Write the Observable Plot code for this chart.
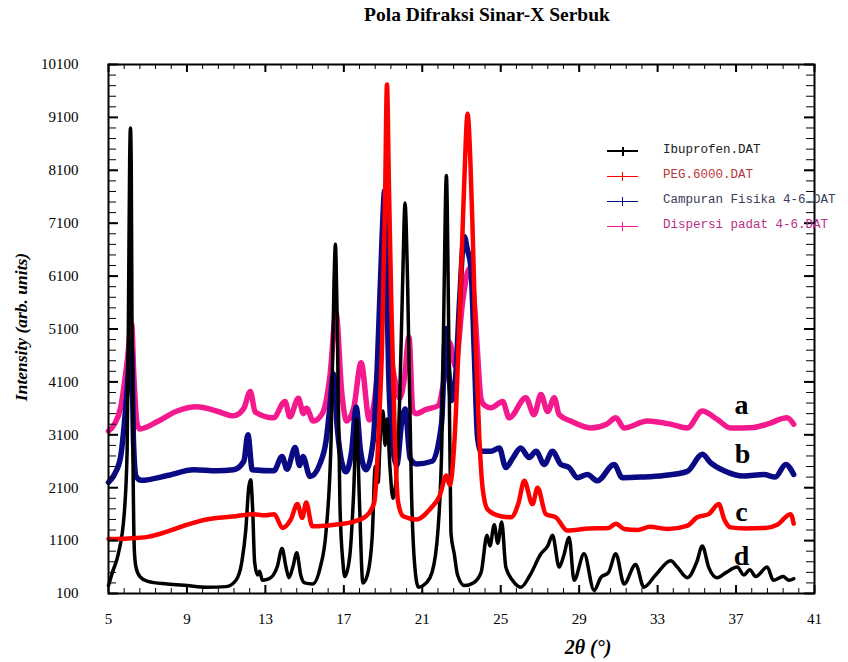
<!DOCTYPE html>
<html><head><meta charset="utf-8">
<script src="https://cdn.jsdelivr.net/npm/d3@7"></script>
<script src="https://cdn.jsdelivr.net/npm/@observablehq/plot@0.6"></script>
<style>
body{margin:0;background:#fff;overflow:hidden;}
#wrap{position:relative;width:848px;height:662px;font-family:"Liberation Serif",serif;}
#title{position:absolute;left:487px;top:4px;transform:translateX(-50%);white-space:nowrap;font-weight:bold;font-size:19.5px;}
#ylab{position:absolute;left:21px;top:327px;transform:translate(-50%,-50%) rotate(-90deg);white-space:nowrap;font-weight:bold;font-style:italic;font-size:17.5px;}
#xlab{position:absolute;left:588px;top:647px;transform:translate(-50%,-50%);white-space:nowrap;font-weight:bold;font-style:italic;font-size:20px;}
#legend{position:absolute;left:607px;top:142px;font-family:"Liberation Mono",monospace;font-size:12.5px;}
.li{position:relative;height:25px;}
.li .ln{position:absolute;left:0;top:9px;width:31px;}
.li .tk{position:absolute;left:15px;top:5px;width:1px;height:9px;}
.li .tx{position:absolute;left:56px;top:1px;white-space:nowrap;}
</style></head>
<body>
<div id="wrap">
  <div id="chart"></div>
  <div id="title">Pola Difraksi Sinar-X Serbuk</div>
  <div id="ylab">Intensity (arb. units)</div>
  <div id="xlab">2θ (°)</div>
  <div id="legend"></div>
</div>
<script>
// ---- series names / colours ----
const seriesNames = ["Ibuprofen.DAT", "PEG.6000.DAT", "Campuran Fisika 4-6.DAT", "Dispersi padat 4-6.DAT"];
const seriesColors = ["#000000", "#ff0000", "#0a0a85", "#f5198e"];
const legendTextColors = ["#202020", "#b8363a", "#3a3a5c", "#b82e86"];

// ---- Ibuprofen (d, black) ----
const ibuX = [5.0,5.2,5.5,5.8,5.95,6.02,6.08,6.12,6.16,6.2,6.26,6.32,6.4,6.6,7.0,8.0,9.0,10.0,11.0,11.5,11.8,12.0,12.15,12.25,12.35,12.45,12.6,12.7,12.85,13.2,13.6,13.85,14.05,14.2,14.4,14.6,14.8,15.0,15.4,15.8,16.1,16.35,16.5,16.57,16.65,16.8,16.95,17.05,17.3,17.5,17.65,17.8,17.97,18.2,18.45,18.6,18.75,18.85,19.0,19.1,19.2,19.35,19.5,19.65,19.85,20.0,20.12,20.25,20.45,20.6,20.8,21.2,21.5,21.8,22.0,22.1,22.23,22.35,22.46,22.63,22.8,23.15,23.6,24.0,24.3,24.45,24.67,24.85,25.05,25.26,25.6,26.03,26.5,27.05,27.4,27.64,27.98,28.2,28.49,28.74,29.25,29.76,30.1,30.5,30.87,31.29,31.88,32.3,32.9,33.67,34.0,34.52,35.0,35.28,35.6,36.04,36.5,37.06,37.4,37.7,38.0,38.59,38.9,39.4,39.7,39.94];
const ibuY = [250,500,850,1600,2800,5500,8300,8900,8200,5000,2200,900,600,420,330,280,250,220,230,350,700,1300,2100,2250,1700,700,450,520,350,380,600,950,600,400,600,870,450,300,280,600,1300,3000,6000,6700,5500,1800,700,420,800,2000,3400,1800,300,450,1200,2500,2200,3000,3550,2900,3400,2500,1900,2200,3800,6000,7480,6000,2000,700,220,300,500,1300,3000,5500,8000,5000,1250,850,450,250,300,500,1200,1000,1400,1050,1450,600,350,220,450,850,1000,1200,600,800,1160,350,850,160,400,500,850,280,650,220,450,720,600,400,700,1000,600,400,500,600,450,550,420,600,350,420,350,380];

// ---- PEG 6000 (c, red) ----
const pegX = [5.0,6.0,7.0,8.0,9.0,10.0,10.6,11.5,12.3,13.0,13.45,13.87,14.3,14.63,14.88,15.08,15.39,16.0,16.5,17.5,18.13,18.55,18.8,18.95,19.1,19.2,19.3,19.42,19.6,19.77,20.03,20.7,21.38,21.89,22.23,22.4,22.65,22.9,23.14,23.31,23.45,23.57,23.74,23.91,24.08,24.33,25.0,25.52,25.9,26.2,26.62,26.88,27.3,27.81,28.4,29.5,30.5,30.87,31.3,32.0,32.6,33.5,34.5,35.02,35.6,36.12,36.4,36.72,37.5,38.5,39.1,39.78,39.94];
const pegY = [1130,1140,1170,1270,1400,1500,1530,1560,1600,1580,1600,1340,1500,1790,1530,1820,1370,1380,1400,1460,1560,1820,3360,4800,7500,9720,7800,5600,3040,1820,1560,1500,1690,1950,2330,2150,3040,5300,7880,9170,8300,6920,4660,3040,2080,1690,1560,1540,1800,2230,1790,2100,1600,1540,1290,1330,1340,1420,1320,1300,1360,1320,1380,1540,1600,1790,1500,1350,1330,1340,1400,1600,1420];

// ---- Campuran Fisika 4-6 (b, navy) ----
const cfX = [5.0,5.3,5.62,5.96,6.13,6.2,6.27,6.41,6.67,8.0,9.35,10.5,11.38,11.9,12.11,12.33,13.43,13.85,14.1,14.52,14.74,14.91,15.28,15.79,16.1,16.3,16.47,16.65,17.0,17.1,17.4,17.63,17.85,18.13,18.5,18.7,18.96,19.08,19.18,19.28,19.45,19.7,19.96,20.13,20.38,20.7,21.5,21.98,22.2,22.35,22.5,22.7,22.9,23.14,23.3,23.48,23.65,23.82,23.99,24.5,24.93,25.26,25.6,26.02,26.45,26.8,27.22,27.64,28.06,28.49,28.91,29.42,29.93,30.78,31.2,32.14,33.33,34.52,35.28,35.71,36.39,37.4,38.42,39.0,39.53,39.94];
const cfY = [2200,2350,2690,3990,4850,4500,3020,2310,2240,2330,2440,2420,2440,2600,3100,2440,2420,2690,2450,2860,2520,2690,2310,2560,3000,3670,4250,3300,2450,2400,2800,3620,2800,2440,3000,4340,6920,7720,6200,4340,3040,2530,3365,3590,2660,2550,2600,3300,5110,4300,3750,4200,5620,6850,6600,6270,4660,3040,2790,2790,2850,2480,2650,2850,2670,2790,2540,2790,2540,2480,2290,2350,2230,2540,2290,2300,2330,2410,2730,2570,2420,2320,2350,2300,2540,2350];

// ---- Dispersi padat 4-6 (a, magenta) ----
const dpX = [5.0,5.3,5.61,5.96,6.18,6.29,6.46,6.6,7.5,8.5,9.52,10.5,11.38,11.9,12.23,12.48,13.41,14.0,14.25,14.68,14.94,15.1,15.44,15.9,16.3,16.6,16.89,17.14,17.5,17.88,18.3,18.81,19.0,19.15,19.3,19.42,19.68,19.84,20.1,20.32,20.52,20.69,21.2,21.8,22.13,22.38,22.69,23.06,23.4,23.65,23.82,23.99,24.16,24.5,25.1,25.43,26.28,26.7,27.05,27.39,27.73,27.98,28.57,29.59,30.4,30.87,31.29,32.48,33.67,34.52,35.28,36.04,36.72,37.91,38.59,39.6,39.94];
const dpY = [3170,3300,3600,4510,5200,4240,3310,3210,3350,3550,3630,3550,3460,3600,3920,3530,3420,3730,3440,3790,3500,3600,3360,3500,4240,5410,3920,3360,3600,4460,3380,4640,5600,6450,5600,4640,4010,3790,4200,4950,3560,3500,3580,3650,4190,4850,4400,5620,6250,5620,4640,3790,3660,3610,3730,3420,3800,3480,3860,3540,3800,3480,3360,3230,3300,3420,3230,3360,3300,3230,3550,3390,3230,3240,3300,3420,3300];

// ---- curve labels ----
const curveLabels = ["a", "b", "c", "d"];
const curveLabelX = [37.28, 37.33, 37.28, 37.28];
const curveLabelY = [3660, 2740, 1645, 815];

// ---- axis ticks ----
const xMajor = [5, 9, 13, 17, 21, 25, 29, 33, 37, 41];
const yMajor = [100, 1100, 2100, 3100, 4100, 5100, 6100, 7100, 8100, 9100, 10100];
const xMinor = d3.range(0, 46).map(i => 5 + i * 0.8);
const yMinor = d3.range(0, 51).map(i => 100 + i * 200);

const toRows = (xs, ys) => xs.map((x, i) => ({x, y: ys[i]}));
const ibu = toRows(ibuX, ibuY), peg = toRows(pegX, pegY), cf = toRows(cfX, cfY), dp = toRows(dpX, dpY);
const labels = curveLabels.map((t, i) => ({t, x: curveLabelX[i], y: curveLabelY[i]}));

const W = 848, H = 662, mT = 64, mB = 69, mL = 108, mR = 34;
const pH = H - mT - mB, pW = W - mL - mR;
const lineOpts = {x: "x", y: "y", strokeLinejoin: "round", curve: "monotone-x"};

const chart = Plot.plot({
  width: W, height: H,
  marginTop: mT, marginBottom: mB, marginLeft: mL, marginRight: mR,
  x: {domain: [5, 41]},
  y: {domain: [100, 10100]},
  style: {fontFamily: "Liberation Serif", fontSize: "15px", color: "#000", background: "transparent"},
  marks: [
    Plot.line(dp, {...lineOpts, stroke: seriesColors[3], strokeWidth: 5.5}),
    Plot.line(cf, {...lineOpts, stroke: seriesColors[2], strokeWidth: 5.5}),
    Plot.line(ibu, {...lineOpts, stroke: seriesColors[0], strokeWidth: 3.5}),
    Plot.line(peg, {...lineOpts, stroke: seriesColors[1], strokeWidth: 4.5}),
    // inward ticks
    Plot.tickX(xMajor, {x: d => d, insetTop: pH - 8, stroke: "#000", strokeWidth: 2}),
    Plot.tickX(xMinor, {x: d => d, insetTop: pH - 5, stroke: "#000", strokeWidth: 1}),
    Plot.tickX(xMajor, {x: d => d, insetBottom: pH - 8, stroke: "#000", strokeWidth: 2}),
    Plot.tickX(xMinor, {x: d => d, insetBottom: pH - 5, stroke: "#000", strokeWidth: 1}),
    Plot.tickY(yMajor, {y: d => d, insetRight: pW - 10, stroke: "#000", strokeWidth: 2}),
    Plot.tickY(yMinor, {y: d => d, insetRight: pW - 8, stroke: "#000", strokeWidth: 1}),
    Plot.tickY(yMajor, {y: d => d, insetLeft: pW - 10, stroke: "#000", strokeWidth: 2}),
    Plot.tickY(yMinor, {y: d => d, insetLeft: pW - 8, stroke: "#000", strokeWidth: 1}),
    Plot.frame({stroke: "#000", strokeWidth: 2}),
    Plot.axisX({anchor: "bottom", ticks: xMajor, tickSize: 0, tickPadding: 20, label: null, tickFormat: d3.format("d"), fontSize: 15}),
    Plot.axisY({anchor: "left", ticks: yMajor, tickSize: 0, tickPadding: 30, label: null, tickFormat: d3.format("d"), fontSize: 15}),
    Plot.text(labels, {x: "x", y: "y", text: "t", fontSize: 28, fontWeight: "bold", fontFamily: "Liberation Serif", fill: "#000"})
  ]
});
document.getElementById("chart").appendChild(chart);

// legend
const lg = document.getElementById("legend");
seriesNames.forEach((name, i) => {
  const row = document.createElement("div");
  row.className = "li";
  const thick = i === 0 ? 2 : 1;
  row.innerHTML = `<div class="ln" style="height:${thick}px;background:${seriesColors[i]};top:${i===0?8:9}px"></div>` +
    `<div class="tk" style="background:${seriesColors[i]};width:${thick}px"></div>` +
    `<div class="tx" style="color:${legendTextColors[i]}">${name}</div>`;
  lg.appendChild(row);
});
</script>
</body></html>
